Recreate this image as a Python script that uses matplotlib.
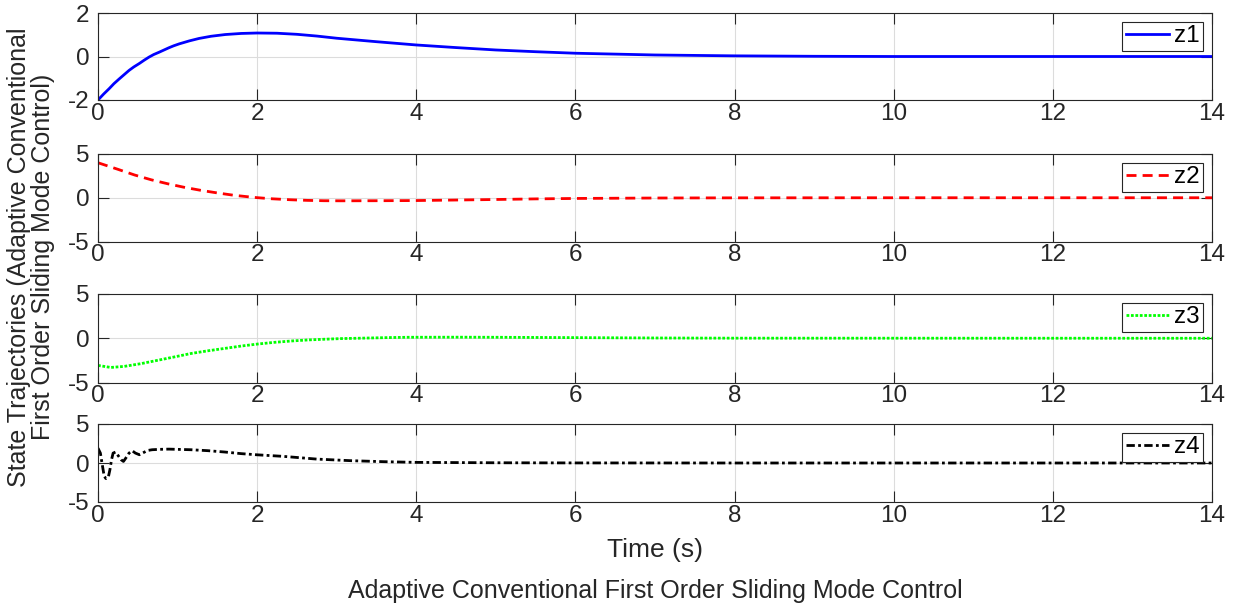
import matplotlib.pyplot as plt

plt.rcParams['font.family'] = ['Liberation Sans', 'DejaVu Sans']
plt.rcParams['axes.unicode_minus'] = False

# values
t1 = [0, 0.07, 0.14, 0.2, 0.27, 0.33, 0.39, 0.45, 0.52, 0.58, 0.64, 0.7, 0.77, 0.83,
      0.89, 0.95, 1.02, 1.15, 1.27, 1.42, 1.6, 1.8, 2.0, 2.25, 2.5, 2.75, 3.0, 3.25,
      3.5, 4.0, 4.5, 5.0, 5.5, 6.0, 7.0, 8.0, 9.0, 10, 12, 14]
z1 = [-2, -1.73, -1.48, -1.25, -1.02, -0.83, -0.64, -0.48, -0.32, -0.17, -0.03, 0.09,
      0.2, 0.3, 0.4, 0.49, 0.58, 0.72, 0.83, 0.93, 1.01, 1.06, 1.08, 1.07, 1.02, 0.94,
      0.84, 0.76, 0.68, 0.53, 0.41, 0.30, 0.22, 0.15, 0.07, 0.03, 0.01, 0.0, 0.0, 0.0]

t2 = [0, 0.25, 0.46, 0.67, 0.875, 1.08, 1.29, 1.5, 1.71, 1.96, 2.17, 2.42, 2.63, 2.84,
      3.05, 3.5, 4.0, 4.5, 5.0, 5.5, 6.0, 7.0, 8.0, 10, 14]
z2 = [4.0, 3.25, 2.6, 2.05, 1.6, 1.2, 0.85, 0.55, 0.28, 0.04, -0.11, -0.23, -0.3, -0.34,
      -0.35, -0.34, -0.32, -0.26, -0.2, -0.13, -0.08, -0.03, -0.01, 0, 0]

t3 = [0, 0.16, 0.33, 0.54, 0.75, 0.96, 1.17, 1.38, 1.59, 1.80, 2.01, 2.22, 2.43, 2.64,
      2.85, 3.05, 3.26, 3.47, 3.68, 3.89, 4.5, 5.0, 6.0, 7.0, 8.0, 14]
z3 = [-3.07, -3.3, -3.18, -2.87, -2.49, -2.11, -1.72, -1.42, -1.15, -0.88, -0.65, -0.46,
      -0.31, -0.19, -0.11, -0.04, 0.0, 0.04, 0.08, 0.11, 0.12, 0.11, 0.07, 0.03, 0.01, 0]

t4 = [0, 0.03, 0.05, 0.078, 0.1, 0.13, 0.15, 0.17, 0.19, 0.22, 0.26, 0.29, 0.32, 0.35,
      0.39, 0.43, 0.47, 0.52, 0.56, 0.62, 0.68, 0.77, 0.89, 1.17, 1.38, 1.59, 1.8, 2.0,
      2.33, 2.75, 3.17, 3.59, 4.0, 5.0, 6.0, 8.0, 14]
z4 = [1.9, 1.27, 0.0, -1.7, -2.0, -1.8, -0.85, 0.42, 1.27, 1.4, 0.85, 0.42, 0.2, 0.64,
      1.27, 1.57, 1.27, 1.06, 1.27, 1.6, 1.7, 1.75, 1.78, 1.7, 1.58, 1.41, 1.2, 1.05,
      0.85, 0.5, 0.3, 0.17, 0.08, 0.03, 0.01, 0, 0]

xticks = [0, 2, 4, 6, 8, 10, 12, 14]
series = [
    (t1, z1, 'z1', '#0000ff', '-', [-2, 0, 2]),
    (t2, z2, 'z2', '#ff0000', (0, (3.6, 2.2)), [-5, 0, 5]),
    (t3, z3, 'z3', '#00ff00', (0, (1, 0.6)), [-5, 0, 5]),
    (t4, z4, 'z4', '#000000', (0, (3, 1.2, 1, 1.2)), [-5, 0, 5]),
]

FS = 17.5
W, H = 1237, 608
# axes boxes in pixels: top, bottom
boxes = [(13, 100), (154, 241.5), (294, 382.5), (424, 502)]
left, right = 98, 1212

fig = plt.figure(figsize=(W / 100, H / 100), dpi=100)
for (top, bot), (t, z, name, c, ls, yt) in zip(boxes, series):
    ax = fig.add_axes([left / W, 1 - bot / H, (right - left) / W, (bot - top) / H])
    ax.plot(t, z, color=c, linestyle=ls, lw=2, label=name)
    ax.set_xlim(0, 14)
    ax.set_ylim(yt[0], yt[-1])
    ax.set_xticks(xticks)
    ax.set_yticks(yt)
    ax.grid(True, color='#dcdcdc', lw=0.8)
    ax.set_axisbelow(True)
    ax.tick_params(direction='in', length=8, width=0.8, color='#262626',
                   labelsize=FS, top=True, right=True, labelcolor='#262626')
    ax.tick_params(axis='x', pad=2)
    ax.tick_params(axis='y', pad=6)
    for s in ax.spines.values():
        s.set_color('#262626')
        s.set_linewidth(0.8)
    leg = ax.legend(loc='upper right', fontsize=FS, fancybox=False, framealpha=1,
                    edgecolor='#262626', borderpad=0.15, handlelength=1.8,
                    handletextpad=0.2, borderaxespad=0.35)
    leg.get_frame().set_linewidth(0.8)

cx = (left + right) / 2 / W
fig.text(cx, 1 - 550 / H, 'Time (s)', ha='center', va='center', fontsize=19,
         color='#262626')
fig.text(cx, 1 - 591 / H, 'Adaptive Conventional First Order Sliding Mode Control',
         ha='center', va='center', fontsize=18, color='#262626')
fig.text(31 / W, 1 - 257 / H,
         'State Trajectories (Adaptive Conventional\nFirst Order Sliding Mode Control)',
         rotation=90, ha='center', va='center', fontsize=18, color='#262626',
         linespacing=1.0, multialignment='center')

fig.savefig('out.png', dpi=100)
